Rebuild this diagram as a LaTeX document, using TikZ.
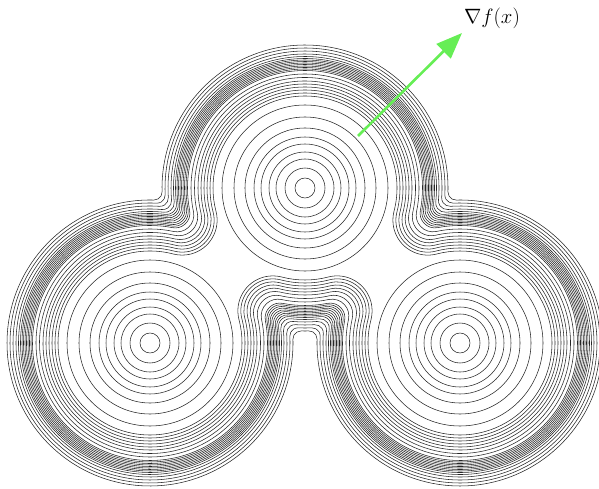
\documentclass[tikz,border=0pt]{standalone}
\usetikzlibrary{arrows.meta}
\definecolor{gradgreen}{RGB}{102,238,85}
\tikzset{
  contour/.style={draw=black!85, line width=0.55pt},
  gradarrow/.style={draw=gradgreen, line width=2.6pt, -{Triangle[length=26pt,width=20pt]}},
  gradlabel/.style={inner sep=0pt, font=\fontsize{20}{24}\selectfont}
}
\begin{document}
\begin{tikzpicture}[x=1pt,y=1pt]
\useasboundingbox (0,0) rectangle (599,488);
\coordinate (T) at (305,300);
\coordinate (L) at (150,145);
\coordinate (R) at (460,145);
% separate inner contours
\foreach \r in {10,20,29,36,44,51,60,71,83}{
  \draw[contour] (T) circle[radius=\r];
  \draw[contour] (L) circle[radius=\r];
  \draw[contour] (R) circle[radius=\r];
}
% merged outer contours (union of circles with fillets)
\foreach \r in {92,95,98,101,104,107,110.5,114,117.5,119,120.5,122,123.5,125,126.5,128,129.5,131.5,134,137,140,143}{
  \pgfmathsetmacro{\fr}{8+27*((143-\r)/51)^2}
  \pgfmathsetmacro{\fs}{\r+\fr}
  \pgfmathsetmacro{\fh}{sqrt((\fs-109.6016)*(\fs+109.6016))}
  \pgfmathsetmacro{\fq}{0.70711*\fh}
  \pgfmathsetmacro{\oLx}{227.5-\fq}\pgfmathsetmacro{\oLy}{222.5+\fq}
  \pgfmathsetmacro{\iLx}{227.5+\fq}\pgfmathsetmacro{\iLy}{222.5-\fq}
  \pgfmathsetmacro{\oRx}{382.5+\fq}\pgfmathsetmacro{\oRy}{222.5+\fq}
  \pgfmathsetmacro{\iRx}{382.5-\fq}\pgfmathsetmacro{\iRy}{222.5-\fq}
  \pgfmathsetmacro{\aToL}{atan2(\oLy-300,\oLx-305)}
  \pgfmathsetmacro{\aTiL}{atan2(\iLy-300,\iLx-305)}
  \pgfmathsetmacro{\aToR}{atan2(\oRy-300,\oRx-305)}
  \pgfmathsetmacro{\aTiR}{atan2(\iRy-300,\iRx-305)}
  \pgfmathsetmacro{\aLo}{atan2(\oLy-145,\oLx-150)}
  \pgfmathsetmacro{\aLi}{atan2(\iLy-145,\iLx-150)}
  \pgfmathsetmacro{\aRo}{atan2(\oRy-145,\oRx-460)}
  \pgfmathsetmacro{\aRi}{atan2(\iRy-145,\iRx-460)}
  \pgfmathsetmacro{\bToL}{\aToL+180}
  \pgfmathsetmacro{\bLi}{\aLi+180}
  \pgfmathsetmacro{\bTiR}{\aTiR+180}
  \pgfmathsetmacro{\bRo}{\aRo+180}
  \pgfmathsetmacro{\sTtop}{mod(\aToL-\aToR+720,360)}
  \pgfmathsetmacro{\fOL}{-mod(\aToL-\aLo+720,360)}
  \pgfmathsetmacro{\sL}{mod(\aLi-\aLo+720,360)}
  \pgfmathsetmacro{\fIL}{-mod(\aLi-\aTiL+720,360)}
  \pgfmathsetmacro{\sTbot}{mod(\aTiR-\aTiL+720,360)}
  \pgfmathsetmacro{\fIR}{-mod(\aTiR-\aRi+720,360)}
  \pgfmathsetmacro{\sR}{mod(\aRo-\aRi+720,360)}
  \pgfmathsetmacro{\fOR}{-mod(\aRo-\aToR+720,360)}
  \draw[contour] ([shift={(\aToR:\r)}]T)
    arc[start angle=\aToR, delta angle=\sTtop, radius=\r]
    arc[start angle=\bToL, delta angle=\fOL, radius=\fr]
    arc[start angle=\aLo, delta angle=\sL, radius=\r]
    arc[start angle=\bLi, delta angle=\fIL, radius=\fr]
    arc[start angle=\aTiL, delta angle=\sTbot, radius=\r]
    arc[start angle=\bTiR, delta angle=\fIR, radius=\fr]
    arc[start angle=\aRi, delta angle=\sR, radius=\r]
    arc[start angle=\bRo, delta angle=\fOR, radius=\fr] -- cycle;
}
% gradient arrow and label
\coordinate (gstart) at (358,352);
\coordinate (gtip) at (462,455);
\node[gradlabel] (lbl) at (492,469.5) {$\nabla f(x)$};
\draw[gradarrow] (gstart) -- (gtip);
\end{tikzpicture}
\end{document}
